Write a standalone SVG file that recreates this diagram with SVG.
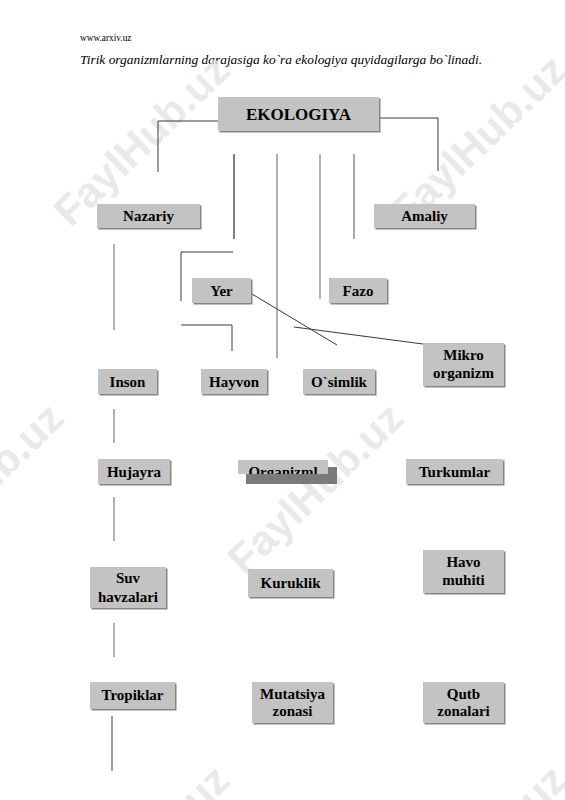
<svg xmlns="http://www.w3.org/2000/svg" width="565" height="800" viewBox="0 0 565 800">
<style>
.sh{fill:#858585}
.bx{fill:#c3c3c3}
.t{font-family:"Liberation Serif","Times New Roman",serif;font-weight:bold;font-size:15px;fill:#000;text-anchor:middle}
.hd{font-family:"Liberation Serif","Times New Roman",serif;fill:#000}
.c{fill:none;stroke:#3a3a3a;stroke-width:1}
.wm{font-family:"Liberation Sans",Arial,sans-serif;font-weight:bold;font-size:42px;fill:#e2e2e2;fill-opacity:0.75;text-anchor:middle}
</style>
<defs>
<clipPath id="orgclip"><rect x="238" y="460" width="90" height="14"/></clipPath>
</defs>
<rect width="565" height="800" fill="#fff"/>
<text class="hd" x="80" y="41" font-size="9.3">www.arxiv.uz</text>
<text class="hd" x="80" y="64" font-style="italic" font-size="13.3" textLength="402" lengthAdjust="spacingAndGlyphs">Tirik organizmlarning darajasiga ko`ra ekologiya quyidagilarga bo`linadi.</text>

<g id="watermarks">
<text class="wm" transform="translate(141,140) rotate(-44)" y="15">FaylHub.uz</text>
<text class="wm" transform="translate(478,140) rotate(-44)" y="15">FaylHub.uz</text>
<text class="wm" transform="translate(315,488) rotate(-44)" y="15">FaylHub.uz</text>
<text class="wm" transform="translate(-25,488) rotate(-44)" y="15">FaylHub.uz</text>
<text class="wm" transform="translate(141,850) rotate(-44)" y="15">FaylHub.uz</text>
<text class="wm" transform="translate(478,850) rotate(-44)" y="15">FaylHub.uz</text>
</g>

<g id="connectors">
<polyline class="c" points="218,121 158,121 158,172"/>
<polyline class="c" points="379,118 438,118 438,171"/>
<line class="c" x1="234" y1="154" x2="234" y2="239" style="stroke:#000"/>
<line class="c" x1="277" y1="154" x2="277" y2="358" style="stroke:#666"/>
<line class="c" x1="320" y1="154" x2="320" y2="299" style="stroke:#666"/>
<line class="c" x1="354" y1="154" x2="354" y2="239" style="stroke:#555"/>
<polyline class="c" points="181,301 181,252 233,252"/>
<polyline class="c" points="181,325 232,325 232,351"/>
<line class="c" x1="252" y1="294" x2="337" y2="345"/>
<line class="c" x1="294" y1="327" x2="423" y2="344"/>
<line class="c" x1="114" y1="244" x2="114" y2="330" style="stroke:#666"/>
<line class="c" x1="114" y1="409" x2="114" y2="443" style="stroke:#666"/>
<line class="c" x1="114" y1="497" x2="114" y2="541" style="stroke:#666"/>
<line class="c" x1="114" y1="623" x2="114" y2="657" style="stroke:#666"/>
<line class="c" x1="112" y1="716" x2="112" y2="771"/>
</g>

<g id="ekologiya"><rect class="sh" x="219.5" y="98.5" width="161" height="34"/><rect class="bx" x="218" y="97" width="161" height="34"/><text class="t" x="298.5" y="120" style="font-size:17px">EKOLOGIYA</text></g>
<g id="nazariy"><rect class="sh" x="98.5" y="205.5" width="103" height="24"/><rect class="bx" x="97" y="204" width="103" height="24"/><text class="t" x="148.5" y="221">Nazariy</text></g>
<g id="amaliy"><rect class="sh" x="375.5" y="205.5" width="101" height="24"/><rect class="bx" x="374" y="204" width="101" height="24"/><text class="t" x="424.5" y="221">Amaliy</text></g>
<g id="yer"><rect class="sh" x="193.5" y="279.5" width="59" height="25"/><rect class="bx" x="192" y="278" width="59" height="25"/><text class="t" x="221.5" y="296">Yer</text></g>
<g id="fazo"><rect class="sh" x="330.5" y="279.5" width="58" height="25"/><rect class="bx" x="329" y="278" width="58" height="25"/><text class="t" x="358" y="296">Fazo</text></g>
<g id="mikro"><rect class="sh" x="424.5" y="344.5" width="81" height="43"/><rect class="bx" x="423" y="343" width="81" height="43"/><text class="t" x="463.5" y="360">Mikro</text><text class="t" x="463.5" y="378">organizm</text></g>
<g id="inson"><rect class="sh" x="99.5" y="370.5" width="59" height="25"/><rect class="bx" x="98" y="369" width="59" height="25"/><text class="t" x="127.5" y="387">Inson</text></g>
<g id="hayvon"><rect class="sh" x="202.5" y="370.5" width="66" height="25"/><rect class="bx" x="201" y="369" width="66" height="25"/><text class="t" x="234" y="387">Hayvon</text></g>
<g id="osimlik"><rect class="sh" x="304.5" y="370.5" width="72" height="25"/><rect class="bx" x="303" y="369" width="72" height="25"/><text class="t" x="339" y="387">O`simlik</text></g>
<g id="hujayra"><rect class="sh" x="99.5" y="460.5" width="72" height="25"/><rect class="bx" x="98" y="459" width="72" height="25"/><text class="t" x="134" y="477">Hujayra</text></g>
<g id="organizml"><rect x="246" y="467" width="91" height="17" fill="#7a7a7a"/><rect x="238" y="460" width="90" height="14" fill="#c3c3c3"/><text class="t" x="283" y="477" clip-path="url(#orgclip)">Organizml</text></g>
<g id="turkumlar"><rect class="sh" x="407.5" y="460.5" width="97" height="25"/><rect class="bx" x="406" y="459" width="97" height="25"/><text class="t" x="454.5" y="477">Turkumlar</text></g>
<g id="suv"><rect class="sh" x="91.5" y="568.5" width="76" height="41"/><rect class="bx" x="90" y="567" width="76" height="41"/><text class="t" x="128" y="583">Suv</text><text class="t" x="128" y="602">havzalari</text></g>
<g id="kuruklik"><rect class="sh" x="249.5" y="570.5" width="85" height="28"/><rect class="bx" x="248" y="569" width="85" height="28"/><text class="t" x="290.5" y="588">Kuruklik</text></g>
<g id="havo"><rect class="sh" x="424.5" y="551.5" width="81" height="43"/><rect class="bx" x="423" y="550" width="81" height="43"/><text class="t" x="463.5" y="567">Havo</text><text class="t" x="463.5" y="585">muhiti</text></g>
<g id="tropiklar"><rect class="sh" x="91.5" y="683.5" width="85" height="27"/><rect class="bx" x="90" y="682" width="85" height="27"/><text class="t" x="132.5" y="700">Tropiklar</text></g>
<g id="mutatsiya"><rect class="sh" x="253.5" y="683.5" width="81" height="41"/><rect class="bx" x="252" y="682" width="81" height="41"/><text class="t" x="292.5" y="699">Mutatsiya</text><text class="t" x="292.5" y="716">zonasi</text></g>
<g id="qutb"><rect class="sh" x="424.5" y="683.5" width="81" height="41"/><rect class="bx" x="423" y="682" width="81" height="41"/><text class="t" x="463.5" y="699">Qutb</text><text class="t" x="463.5" y="716">zonalari</text></g>
</svg>
